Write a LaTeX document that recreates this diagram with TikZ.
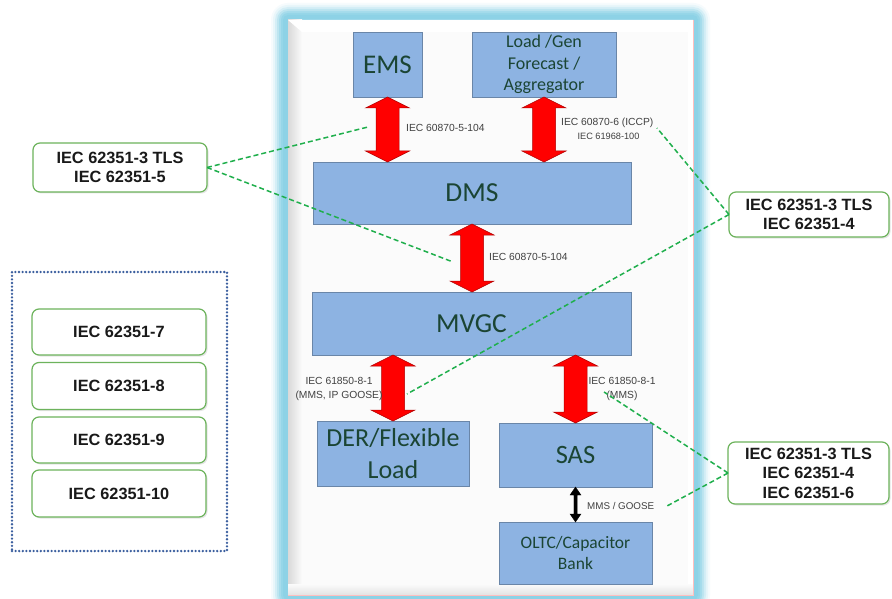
\documentclass[tikz,border=0pt]{standalone}
\usepackage{fontspec}
\setmainfont{Carlito}
\newfontfamily\arialf{Liberation Sans}
\usetikzlibrary{calc,shadows}
\definecolor{boxfill}{HTML}{8DB3E2}
\definecolor{boxdraw}{HTML}{6A86A8}
\definecolor{boxtext}{HTML}{1B4534}
\definecolor{glowC}{HTML}{8DD2E6}
\definecolor{labgray}{HTML}{404040}
\definecolor{calgreen}{HTML}{6DB35C}
\definecolor{dashgreen}{HTML}{1FAF4C}
\definecolor{dotblue}{HTML}{3A5E9E}
\definecolor{redfill}{HTML}{FF0000}
\definecolor{redline}{HTML}{B00000}
\newcommand\fatarrow[6]{% top, bottom, half shaft, half head, head length, style
  \draw[#6] let \p1=(#1), \p2=(#2) in
   (\x1,\y1) -- ({\x1+#4},{\y1-#5}) -- ({\x1+#3},{\y1-#5}) -- ({\x1+#3},{\y2+#5})
   -- ({\x1+#4},{\y2+#5}) -- (\x1,\y2) -- ({\x1-#4},{\y2+#5}) -- ({\x1-#3},{\y2+#5})
   -- ({\x1-#3},{\y1-#5}) -- ({\x1-#4},{\y1-#5}) -- cycle;}
\tikzset{
  sysbox/.style={draw=boxdraw, line width=0.8pt, fill=boxfill, text=boxtext,
    inner sep=0pt, outer sep=0pt, align=center},
  lab/.style={font=\arialf\fontsize{10.3}{12}\selectfont, text=labgray, inner sep=0pt},
  callout/.style={draw=calgreen, line width=1.2pt, fill=white, rounded corners=7pt,
    inner sep=0pt, outer sep=0pt, align=center,
    font=\arialf\bfseries\fontsize{16.3}{19.5}\selectfont, text=black!90,
    drop shadow={shadow xshift=1.5pt, shadow yshift=-1.5pt, opacity=0.2}},
  gdash/.style={dashgreen, line width=1.5pt, dash pattern=on 5pt off 3pt},
  redarr/.style={fill=redfill, draw=redline, line width=0.5pt},
  blkarr/.style={fill=black, draw=black, line width=0.3pt}
}
\begin{document}
\begin{tikzpicture}[x=1pt,y=-1pt]
\useasboundingbox (0,0) rectangle (892,599);
\fill[white] (0,0) rectangle (892,599);
% glow frame
\foreach \d/\c in {17/8,15/20,13/38,11/58,9/78,7/92,5/100}{
  \fill[glowC!\c!white, rounded corners=\d pt] ({288-\d},{20-\d}) rectangle ({693+\d},{595+\d});
}
% inner panel with bevel
\fill[white] (288,20) rectangle (693,595);
\shade[left color=gray!30, right color=white!97!gray] (288,20) rectangle (302,595);
\fill[white!97!gray] (302,32) rectangle (688,584);
\shade[bottom color=gray!22, top color=white!97!gray] (288,584) rectangle (693,595);
\fill[white] (288,20) -- (693,20) -- (688,32) -- (302,32) -- cycle;
\draw[red!25, line width=0.6pt] (288,595) -- (693,595) -- (693,20);

% system boxes
\node[sysbox, minimum width=69pt, minimum height=65pt, font=\fontsize{27}{30}\selectfont] (EMS) at (387.5,64.5) {EMS};
\node[sysbox, minimum width=144pt, minimum height=65pt, font=\fontsize{18}{21.7}\selectfont] (LG) at (544,64.5) {Load /Gen\\Forecast /\\Aggregator};
\node[sysbox, minimum width=318pt, minimum height=62pt, font=\fontsize{27.5}{30}\selectfont] (DMS) at (472,193) {DMS};
\node[sysbox, minimum width=319pt, minimum height=63pt, font=\fontsize{27.5}{30}\selectfont] (MVGC) at (471.5,323.5) {MVGC};
\node[sysbox, minimum width=152pt, minimum height=65pt, font=\fontsize{26}{32}\selectfont] (DER) at (393,453.5) {DER/Flexible\\Load};
\node[sysbox, minimum width=153pt, minimum height=64pt, font=\fontsize{26.5}{30}\selectfont] (SAS) at (575.5,455) {SAS};
\node[sysbox, minimum width=153pt, minimum height=62pt, font=\fontsize{17.5}{20.7}\selectfont] (OLTC) at (575.5,553) {OLTC/Capacitor\\Bank};

% red arrows
\fatarrow{EMS.south}{EMS.south |- DMS.north}{11.5pt}{22pt}{11pt}{redarr}
\fatarrow{LG.south}{LG.south |- DMS.north}{11.5pt}{22pt}{11pt}{redarr}
\fatarrow{DMS.south}{DMS.south |- MVGC.north}{11.5pt}{22pt}{11pt}{redarr}
\fatarrow{DER.north |- MVGC.south}{DER.north}{11.5pt}{22pt}{11pt}{redarr}
\fatarrow{SAS.north |- MVGC.south}{SAS.north}{11.5pt}{22pt}{11pt}{redarr}
\fatarrow{SAS.south}{OLTC.north}{1.6pt}{5.5pt}{8pt}{blkarr}

% labels
\node[lab, anchor=west] (l1) at (406,128) {IEC 60870-5-104};
\node[lab, anchor=west] (l2a) at (561,123) {IEC 60870-6 (ICCP)};
\node[lab, font=\arialf\fontsize{9.2}{10}\selectfont] (l2b) at (608.5,136) {IEC 61968-100};
\node[lab, anchor=west] (l3) at (489,257) {IEC 60870-5-104};
\node[lab, align=center, font=\arialf\fontsize{10.3}{13.5}\selectfont] (l4) at (339,389) {IEC 61850-8-1\\(MMS, IP GOOSE)};
\node[lab, align=center, font=\arialf\fontsize{10.3}{13.5}\selectfont] (l5) at (622,389) {IEC 61850-8-1\\(MMS)};
\node[lab, anchor=west, font=\arialf\fontsize{9.8}{11}\selectfont] (l6) at (587,506) {MMS / GOOSE};

% callouts
\node[callout, minimum width=174pt, minimum height=49pt] (C1) at (120,167.5) {IEC 62351-3 TLS\\IEC 62351-5};
\node[callout, minimum width=160pt, minimum height=45pt] (C2) at (809,214.5) {IEC 62351-3 TLS\\IEC 62351-4};
\node[callout, minimum width=161pt, minimum height=62pt] (C3) at (808.5,473) {IEC 62351-3 TLS\\IEC 62351-4\\IEC 62351-6};

% dotted group
\node[draw=dotblue, line width=2.6pt, line cap=round, dash pattern=on 0pt off 3.6pt, minimum width=215pt, minimum height=279pt, inner sep=0pt] (G) at (119.5,411.5) {};
\node[callout, minimum width=174pt, minimum height=46pt] (S7) at (119,332) {IEC 62351-7};
\node[callout, minimum width=174pt, minimum height=47pt] (S8) at (119,386) {IEC 62351-8};
\node[callout, minimum width=174pt, minimum height=46pt] (S9) at (119,440) {IEC 62351-9};
\node[callout, minimum width=174pt, minimum height=47pt] (S10) at (119,493.5) {IEC 62351-10};

% dashed connector ends
\coordinate (e1) at (368,127);
\coordinate (e2) at (453,262);
\coordinate (e3) at (657,128);
\coordinate (e4) at (407,394);
\coordinate (e5) at (604,392);
\coordinate (e6) at (667,506);
\draw[gdash] (C1.east) -- (e1);
\draw[gdash] (C1.east) -- (e2);
\draw[gdash] (C2.west) -- (e3);
\draw[gdash] (C2.west) -- (e4);
\draw[gdash] (C3.west) -- (e5);
\draw[gdash] (C3.west) -- (e6);
\end{tikzpicture}
\end{document}
